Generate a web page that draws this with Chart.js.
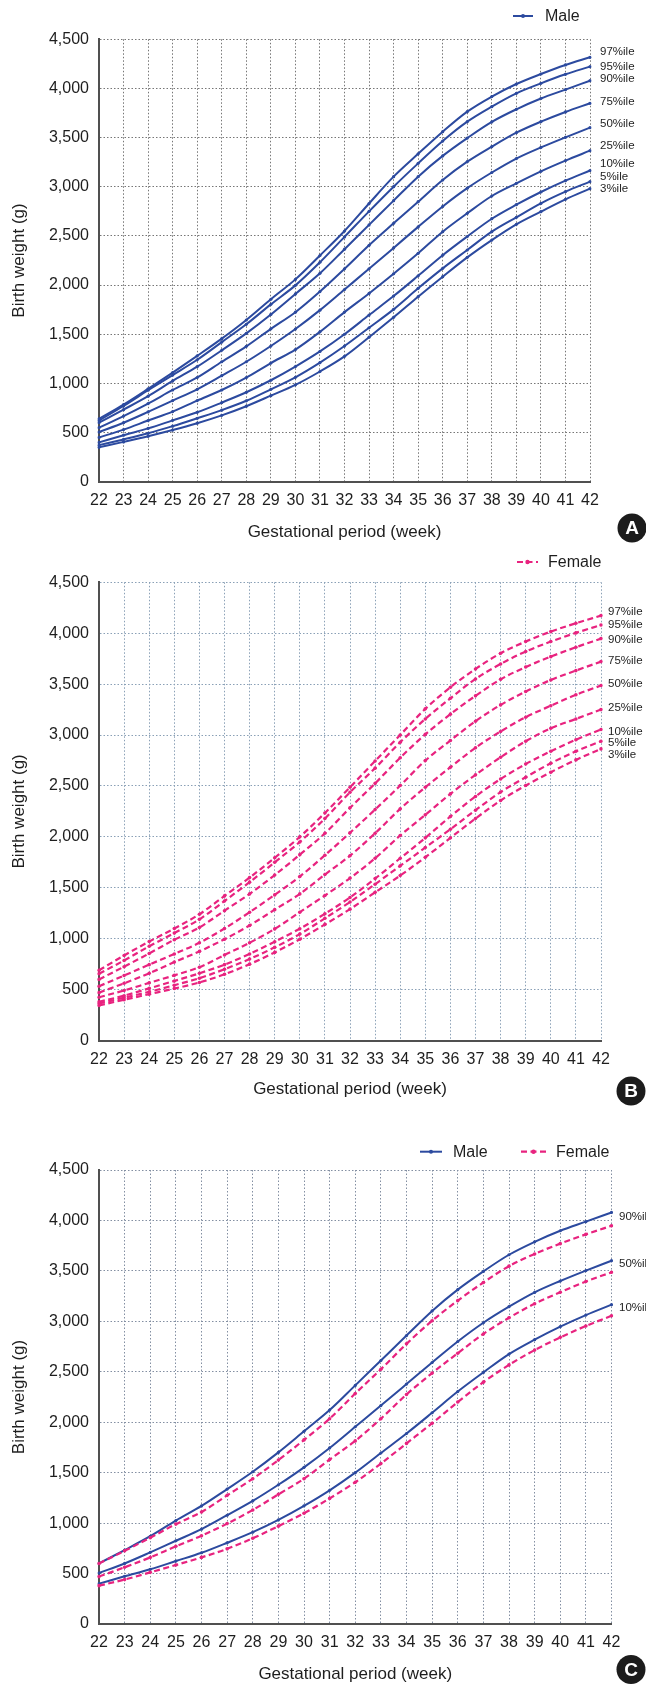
<!DOCTYPE html>
<html>
<head>
<meta charset="utf-8">
<script src="https://cdn.jsdelivr.net/npm/chart.js@4.4.1/dist/chart.umd.min.js"></script>
<style>
  html, body { margin: 0; padding: 0; background: #ffffff; }
  body { width: 646px; height: 1692px; position: relative; overflow: hidden; }
  canvas { position: absolute; left: 0; }
</style>
</head>
<body>
<canvas id="panelA" width="646" height="548" style="top:0px"></canvas>
<canvas id="panelB" width="646" height="572" style="top:548px"></canvas>
<canvas id="panelC" width="646" height="572" style="top:1120px"></canvas>
<script>
// Gestational age in completed weeks
const weeks = [22, 23, 24, 25, 26, 27, 28, 29, 30, 31, 32, 33, 34, 35, 36, 37, 38, 39, 40, 41, 42];

// Birth weight percentiles (g), boys
const male97 = [640, 785, 945, 1110, 1280, 1455, 1645, 1856, 2058, 2301, 2550, 2830, 3103, 3335, 3560, 3764, 3917, 4045, 4147, 4239, 4317];
const male95 = [622, 770, 930, 1085, 1240, 1420, 1601, 1804, 1997, 2232, 2490, 2750, 3001, 3238, 3465, 3662, 3815, 3950, 4052, 4144, 4222];
const male90 = [600, 733, 870, 1025, 1170, 1337, 1509, 1701, 1910, 2120, 2365, 2612, 2859, 3103, 3314, 3495, 3660, 3788, 3898, 3988, 4079];
const male75 = [550, 668, 795, 933, 1060, 1220, 1377, 1555, 1724, 1934, 2165, 2405, 2628, 2848, 3069, 3255, 3408, 3550, 3662, 3761, 3849];
const male50 = [505, 600, 710, 825, 940, 1078, 1220, 1380, 1553, 1745, 1955, 2165, 2378, 2592, 2800, 2986, 3145, 3287, 3400, 3503, 3601];
const male25 = [450, 530, 622, 713, 825, 933, 1059, 1207, 1344, 1524, 1725, 1915, 2115, 2323, 2543, 2730, 2906, 3035, 3157, 3266, 3367];
const male10 = [400, 473, 542, 624, 706, 805, 910, 1032, 1171, 1325, 1500, 1695, 1888, 2094, 2304, 2494, 2675, 2818, 2947, 3062, 3165];
const male5  = [372, 430, 492, 565, 645, 728, 823, 940, 1062, 1211, 1380, 1566, 1753, 1967, 2170, 2357, 2543, 2689, 2831, 2950, 3052];
const male3  = [350, 405, 462, 525, 595, 675, 768, 875, 985, 1121, 1275, 1470, 1672, 1882, 2085, 2282, 2458, 2618, 2747, 2872, 2981];

// Birth weight percentiles (g), girls
const female97 = [690, 835, 972, 1100, 1240, 1420, 1600, 1795, 2000, 2235, 2487, 2745, 3001, 3257, 3469, 3649, 3803, 3918, 4016, 4098, 4173];
const female95 = [655, 786, 925, 1055, 1190, 1370, 1555, 1750, 1950, 2180, 2438, 2675, 2929, 3158, 3361, 3551, 3698, 3820, 3918, 4003, 4081];
const female90 = [600, 725, 855, 990, 1110, 1275, 1440, 1625, 1825, 2035, 2285, 2525, 2777, 3006, 3205, 3385, 3547, 3668, 3770, 3862, 3947];
const female75 = [533, 638, 745, 850, 960, 1100, 1260, 1430, 1610, 1820, 2040, 2268, 2504, 2749, 2946, 3136, 3296, 3427, 3541, 3633, 3721];
const female50 = [470, 562, 660, 770, 875, 995, 1130, 1285, 1440, 1630, 1815, 2035, 2275, 2487, 2684, 2875, 3035, 3175, 3288, 3395, 3486];
const female25 = [425, 491, 566, 640, 720, 840, 960, 1096, 1260, 1424, 1595, 1790, 2013, 2216, 2422, 2609, 2782, 2939, 3067, 3158, 3250];
const female10 = [380, 440, 512, 585, 660, 745, 850, 970, 1098, 1245, 1405, 1590, 1790, 1990, 2200, 2397, 2568, 2715, 2841, 2954, 3055];
const female5  = [363, 420, 478, 543, 612, 700, 800, 915, 1045, 1200, 1360, 1535, 1715, 1895, 2075, 2262, 2440, 2586, 2723, 2840, 2939];
const female3  = [344, 400, 455, 510, 570, 650, 750, 865, 995, 1140, 1290, 1455, 1620, 1800, 1990, 2180, 2357, 2504, 2635, 2756, 2864];

// Curve names, top to bottom
const percentileNames = ['97%ile', '95%ile', '90%ile', '75%ile', '50%ile', '25%ile', '10%ile', '5%ile', '3%ile'];
const yTickMax = 4500;
const yTickStep = 500;

const FONT = '"Liberation Sans", Arial, Helvetica, sans-serif';
const TEXT_COLOR = '#1e1e1e';
const AXIS_COLOR = '#505050';
const MALE_COLOR = '#2c4a9f';
const FEMALE_COLOR = '#e8237f';

Chart.defaults.font.family = FONT;
Chart.defaults.color = TEXT_COLOR;

const maleStyle = {
  borderColor: MALE_COLOR, backgroundColor: MALE_COLOR,
  borderWidth: 2, pointRadius: 1.6, pointBorderWidth: 0, pointHoverRadius: 0,
  cubicInterpolationMode: 'monotone', fill: false, order: 1
};
const femaleStyle = {
  borderColor: FEMALE_COLOR, backgroundColor: FEMALE_COLOR,
  borderWidth: 2.2, borderDash: [6, 3.5], pointRadius: 1.8, pointBorderWidth: 0, pointHoverRadius: 0,
  cubicInterpolationMode: 'monotone', fill: false, order: 0
};

function series(name, values, style) {
  return Object.assign({ label: name, data: values }, style);
}

// Percentile tags at the line ends, the legend samples and the panel letter
const decor = {
  id: 'decor',
  afterDraw(chart, args, o) {
    const ctx = chart.ctx;
    const area = chart.chartArea;
    ctx.save();
    ctx.font = o.tagSize + 'px ' + FONT;
    ctx.fillStyle = TEXT_COLOR;
    ctx.textAlign = 'left';
    ctx.textBaseline = 'middle';
    (o.tags || []).forEach(t => {
      const pts = chart.getDatasetMeta(t.ds).data;
      const end = pts[pts.length - 1];
      ctx.fillText(t.text, area.right + o.tagGap, end.y + t.dy);
    });

    (o.legend || []).forEach(it => {
      const s = it.style;
      ctx.save();
      ctx.strokeStyle = s.borderColor;
      ctx.lineWidth = s.borderWidth;
      ctx.setLineDash(s.borderDash || []);
      ctx.beginPath();
      ctx.moveTo(it.x0, it.y);
      ctx.lineTo(it.x1, it.y);
      ctx.stroke();
      ctx.setLineDash([]);
      ctx.fillStyle = s.borderColor;
      ctx.beginPath();
      ctx.arc((it.x0 + it.x1) / 2, it.y, s.pointRadius + 0.4, 0, Math.PI * 2);
      ctx.fill();
      ctx.fillStyle = TEXT_COLOR;
      ctx.font = o.legendSize + 'px ' + FONT;
      ctx.textAlign = 'left';
      ctx.textBaseline = 'middle';
      ctx.fillText(it.text, it.tx, it.y + 0.5);
      ctx.restore();
    });

    if (o.badge) {
      const b = o.badge;
      ctx.fillStyle = '#1c1c1c';
      ctx.beginPath();
      ctx.arc(b.x, b.y, b.r, 0, Math.PI * 2);
      ctx.fill();
      ctx.fillStyle = '#ffffff';
      ctx.font = 'bold 19px ' + FONT;
      ctx.textAlign = 'center';
      ctx.textBaseline = 'middle';
      ctx.fillText(b.text, b.x, b.y + 1);
    }
    ctx.restore();
  }
};

function axisSet(cfg) {
  return {
    x: {
      type: 'category',
      offset: false,
      grid: { color: cfg.gridColor, lineWidth: 1, drawTicks: false },
      border: { display: true, color: AXIS_COLOR, width: 2, dash: [1.5, 2] },
      ticks: { autoSkip: false, maxRotation: 0, minRotation: 0, padding: 9, color: TEXT_COLOR, font: { size: 16 } },
      title: { display: true, text: 'Gestational period (week)', color: TEXT_COLOR, font: { size: 17 },
               padding: { top: 0, bottom: cfg.xTitlePad } },
      afterFit(s) { s.height = cfg.xAxisHeight; }
    },
    y: {
      type: 'linear',
      min: 0,
      max: yTickMax,
      grid: { color: cfg.gridColor, lineWidth: 1, drawTicks: false },
      border: { display: true, color: AXIS_COLOR, width: 2, dash: [1.5, 2] },
      ticks: { stepSize: yTickStep, padding: 10, color: TEXT_COLOR, font: { size: 16 },
               callback: v => v.toLocaleString('en-US') },
      title: { display: true, text: 'Birth weight (g)', color: TEXT_COLOR, font: { size: 17 },
               padding: { top: 8.8, bottom: 0 } },
      afterFit(s) { s.width = 99; }
    }
  };
}

function buildChart(id, datasets, cfg) {
  return new Chart(document.getElementById(id), {
    type: 'line',
    data: { labels: weeks, datasets: datasets },
    options: {
      responsive: false,
      animation: false,
      events: [],
      layout: { padding: cfg.padding },
      plugins: { legend: { display: false }, tooltip: { enabled: false }, decor: cfg.decor },
      scales: axisSet(cfg)
    },
    plugins: [decor]
  });
}

const maleSets = [male97, male95, male90, male75, male50, male25, male10, male5, male3];
const femaleSets = [female97, female95, female90, female75, female50, female25, female10, female5, female3];

// A: boys, all percentiles
buildChart('panelA',
  maleSets.map((v, i) => series('Male ' + percentileNames[i], v, maleStyle)),
  {
    padding: { top: 39.3, right: 56, bottom: 0, left: 0 },
    gridColor: '#767676', xAxisHeight: 66.3, xTitlePad: 5.8,
    decor: {
      tagSize: 11.5, tagGap: 10, legendSize: 16,
      tags: percentileNames.map((t, i) => ({ ds: i, text: t, dy: [-5, 0, -2, -1, -4, -5, -7, -5, 0][i] })),
      legend: [{ text: 'Male', style: maleStyle, x0: 513, x1: 533, tx: 545, y: 16 }],
      badge: { text: 'A', x: 632, y: 528, r: 14.5 }
    }
  });

// B: girls, all percentiles
buildChart('panelB',
  femaleSets.map((v, i) => series('Female ' + percentileNames[i], v, femaleStyle)),
  {
    padding: { top: 34.3, right: 45, bottom: 0, left: 0 },
    gridColor: '#8aa0b6', xAxisHeight: 79.5, xTitlePad: 20.8,
    decor: {
      tagSize: 11.5, tagGap: 7, legendSize: 16,
      tags: percentileNames.map((t, i) => ({ ds: i, text: t, dy: [-4, 0, 1, -1, -2, -2, 2, 2, 6][i] })),
      legend: [{ text: 'Female', style: femaleStyle, x0: 517, x1: 538, tx: 548, y: 14 }],
      badge: { text: 'B', x: 631, y: 543, r: 14.5 }
    }
  });

// C: boys and girls compared at the 90th, 50th and 10th percentiles
buildChart('panelC',
  [
    series('Male 90%ile', male90, maleStyle),
    series('Male 50%ile', male50, maleStyle),
    series('Male 10%ile', male10, maleStyle),
    series('Female 90%ile', female90, femaleStyle),
    series('Female 50%ile', female50, femaleStyle),
    series('Female 10%ile', female10, femaleStyle)
  ],
  {
    padding: { top: 50, right: 34.5, bottom: 0, left: 0 },
    gridColor: '#838fa2', xAxisHeight: 68, xTitlePad: 7.8,
    decor: {
      tagSize: 11.5, tagGap: 7.5, legendSize: 16,
      tags: [
        { ds: 0, text: '90%ile', dy: 4 },
        { ds: 1, text: '50%ile', dy: 3 },
        { ds: 2, text: '10%ile', dy: 3 }
      ],
      legend: [
        { text: 'Male', style: maleStyle, x0: 420, x1: 442, tx: 453, y: 31.7 },
        { text: 'Female', style: femaleStyle, x0: 521, x1: 546, tx: 556, y: 31.7 }
      ],
      badge: { text: 'C', x: 631, y: 549.5, r: 14.5 }
    }
  });
</script>
</body>
</html>
